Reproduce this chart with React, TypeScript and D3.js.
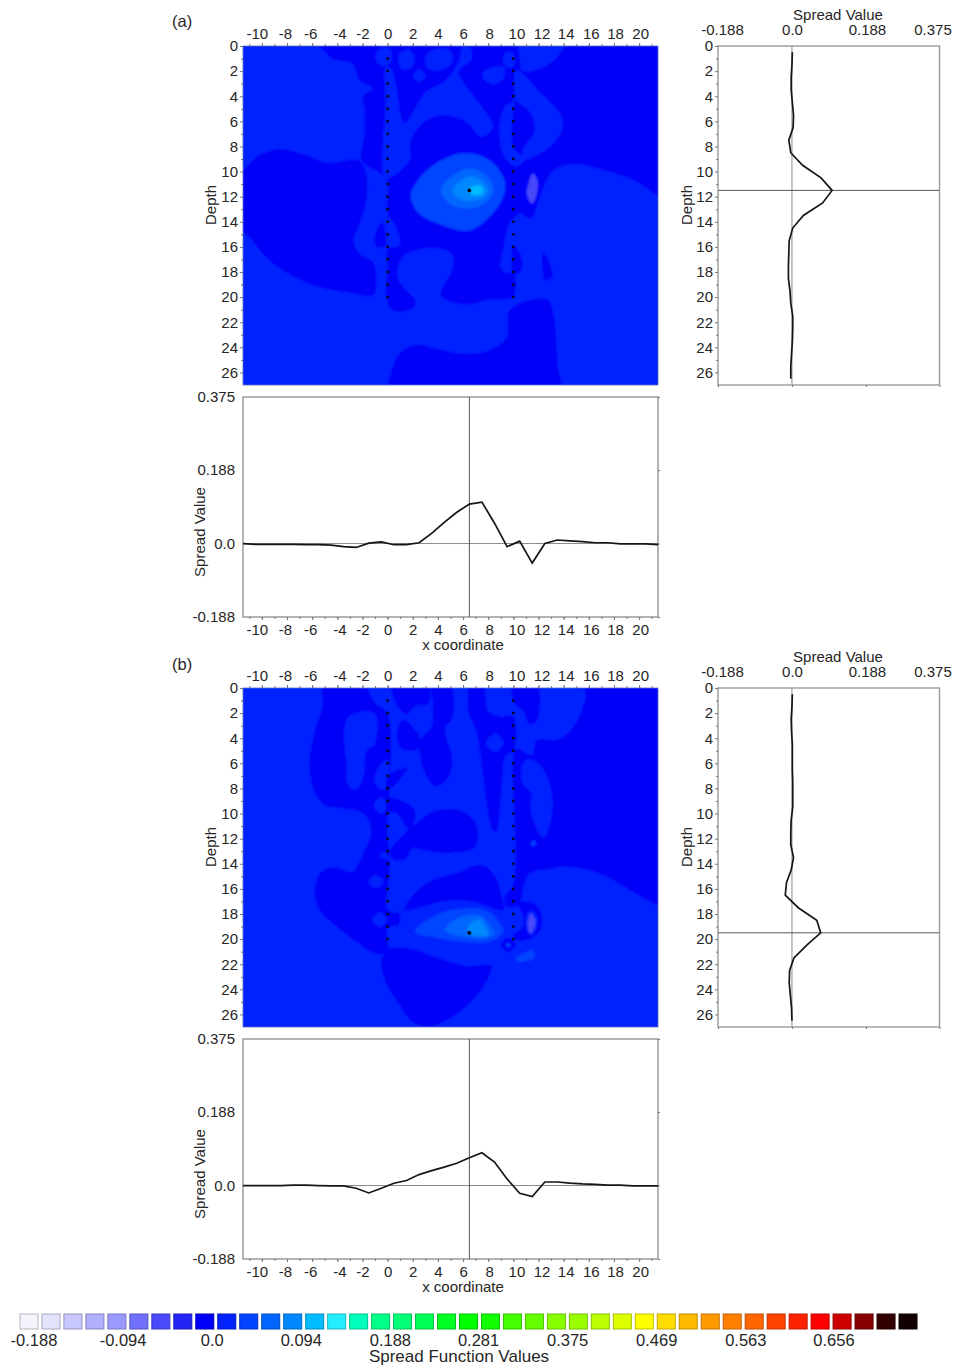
import * as d3 from "d3";
import { useEffect, useRef } from "react";

// tick values
const xMajor = [-10,-8,-6,-4,-2,0,2,4,6,8,10,12,14,16,18,20]
const depthMajor = [0,2,4,6,8,10,12,14,16,18,20,22,24,26]
const spreadTicks = [-0.188,0,0.188,0.375]
const wellX = [0,10]
const wellDepths = [1,2,3,4,5,6,7,8,9,10,11,12,13,14,15,16,17,18,19,20]

// legend
const legendColors = ["#f3f3fb","#e2e2fd","#c8c8fe","#b0b0fd","#9a9afe","#7070fb","#4a4afa","#2424f5","#0000f8","#0022ff","#0044ff","#0066ff","#0088ff","#00bbff","#22eeff","#00ffbb","#00ff88","#00ff77","#00ff55","#00ff22","#00ff00","#11ff00","#44ff00","#66ff00","#88ff00","#99ff00","#bbff00","#ddff00","#ffff00","#ffdd00","#ffbb00","#ff9900","#ff8000","#ff6600","#ff4400","#ff2200","#ff0000","#cc0000","#880000","#330000","#110000"]
const legendLabels = ["-0.188","-0.094","0.0","0.094","0.188","0.281","0.375","0.469","0.563","0.656"]
const legendValues = [-0.188,-0.094,0,0.094,0.188,0.281,0.375,0.469,0.563,0.656]

// band values used by the contour regions
const LOW = -0.035, DARK = 0.012, MID = 0.035, R1 = 0.059, R2 = 0.082, R3 = 0.106, R4 = 0.129

// profiles, x from -11.5 to 21.5 in steps of 1
const profileX = [-11.5,-10.5,-9.5,-8.5,-7.5,-6.5,-5.5,-4.5,-3.5,-2.5,-1.5,-0.5,0.5,1.5,2.5,3.5,4.5,5.5,6.5,7.5,8.5,9.5,10.5,11.5,12.5,13.5,14.5,15.5,16.5,17.5,18.5,19.5,20.5,21.5]
const spreadXA = [0,-0.002,-0.002,-0.002,-0.002,-0.003,-0.003,-0.004,-0.008,-0.01,0.001,0.004,-0.003,-0.003,0.002,0.026,0.054,0.08,0.101,0.106,0.052,-0.008,0.006,-0.05,0,0.009,0.007,0.005,0.002,0.002,-0.001,-0.001,-0.001,-0.003]
const spreadXB = [0,0,0,0,0.001,0.001,0,-0.001,-0.001,-0.007,-0.019,-0.007,0.006,0.013,0.028,0.038,0.047,0.057,0.071,0.084,0.06,0.017,-0.02,-0.028,0.009,0.009,0.006,0.004,0.003,0.001,0.001,-0.001,-0.001,-0.001]

// profiles, depth from 0.5 to 26.5 in steps of 1
const profileDepth = [0.5,1.5,2.5,3.5,4.5,5.5,6.5,7.5,8.5,9.5,10.5,11.5,12.5,13.5,14.5,15.5,16.5,17.5,18.5,19.5,20.5,21.5,22.5,23.5,24.5,25.5,26.5]
const spreadDepthA = [0.001,0,-0.002,-0.002,0.001,0.004,0.003,-0.008,-0.003,0.027,0.074,0.102,0.078,0.029,0.002,-0.007,-0.008,-0.009,-0.009,-0.005,-0.003,0.002,0.002,0.001,-0.001,-0.003,-0.003]
const spreadDepthB = [0.001,0,-0.002,-0.001,0.001,0.001,0.001,0.002,0.002,0.002,-0.002,-0.003,-0.003,0.004,-0.002,-0.014,-0.017,0.016,0.063,0.073,0.037,0.005,-0.006,-0.007,-0.004,-0.001,0]

// contours of map (a), [x, depth]
const darkMainA = [[-5.45,-0.5],[22.5,-0.5],[22.5,12],[21.5,11.9],[19.8,10.8],[17.2,9.9],[14.8,9.4],[13.2,9.9],[12.1,12],[11.4,13.75],[10.5,13.35],[9.7,14.15],[9.3,15.75],[9,17.6],[9.3,18],[10,18.1],[10,20],[8.1,20.2],[6.25,20.6],[4.25,19.9],[5.2,17.6],[5.05,16.5],[3.05,16.1],[1.2,16.8],[0.8,18.4],[1.3,19.3],[2.25,20.4],[1.7,21.05],[0.4,21.05],[-0.1,20],[0,17.6],[0,16.15],[0.95,15.9],[0.65,14.4],[0,13.35],[-0.1,10.55],[-2.05,9.15],[-1.85,7],[-1.85,5.1],[-1.95,4.05],[-1.2,3.4],[-2.25,2.7],[-2.8,1.4],[-4.4,1]]
const leftBlobA = [[-12.5,11.2],[-11.2,9.6],[-10.2,8.7],[-8.6,8.2],[-6.8,8.6],[-4.7,9.3],[-2.3,9.1],[-1.7,10.2],[-1.7,12.3],[-2.3,14.4],[-2.7,15.5],[-2.3,16.5],[-1.1,17.3],[-0.9,19.2],[-1.2,19.9],[-2.8,19.7],[-5.5,19.2],[-8.1,18],[-9.7,16.8],[-11,15.2],[-12.5,13.9]]
const bottomA = [[0.15,27.45],[0.25,26.1],[0.95,24.5],[2.25,23.8],[3.85,24.1],[6,24.5],[8.1,24.25],[9.45,23.2],[9.7,21.05],[12.65,20.15],[13.15,21.05],[13.55,25.6],[13.7,27.45]]
const armA = [[-0.15,10.55],[1.2,9.75],[1.75,9.1],[1.85,7.5],[2.8,6.15],[4.4,5.5],[6.25,6.05],[7.45,7.25],[8.4,6.45],[7.85,5.35],[6.1,3],[5.65,2.05],[6.65,1.1],[6.65,0.3],[6,-0.2],[5.7,1.1],[4.65,2.7],[3.05,3.65],[1.35,6.15],[0.95,5.1],[0.65,3],[0.25,1.8],[-0.15,1.65],[-0.15,4.3]]
const bumpA1 = [[-0.95,1],[-0.65,0.2],[0.15,0.2],[0.25,1.25],[-0.4,1.65]]
const bumpA2 = [[0.95,0.6],[1.75,0.3],[2.15,0.85],[1.85,1.8],[1.05,1.8]]
const bumpA3 = [[2.05,2.3],[2.5,1.85],[3,2.3],[2.5,2.9]]
const bumpA4 = [[3.05,0.85],[3.6,0.3],[4.9,0.3],[5.2,1.1],[4.65,1.8],[3.2,1.8]]
const bumpA5 = [[7.6,2.05],[9.2,1.65],[9.2,2.6],[8.4,3.05],[7.7,2.7]]
const bumpA6 = [[9.2,1],[9.45,0.45],[10,0.6],[10,1.65],[9.45,1.65]]
const wellStripA = [[10.1,2.05],[10,4.3],[9.3,4.85],[8.9,6.7],[9.3,8.85],[10.25,9.6],[10.9,9],[10,8.05],[10.1,4.55],[10.75,3]]
const rightArmA = [[10.25,1.9],[11.15,2.6],[11.85,3.4],[13.85,5.65],[13.85,6.7],[12.9,8.05],[10.9,9.05],[10.75,8.3],[11.7,6.7],[11.3,5.25],[10.25,4.3]]
const topRightA = [[10.5,-0.5],[14.2,-0.5],[12.9,1.4],[10.75,2],[10.5,0.85]]
const lobeA1 = [[-0.4,14],[-0.15,16],[-0.95,15.9],[-1.05,15.2]]
const lobeA2 = [[10,15.9],[10.65,16.8],[10.65,17.85],[10,18.15]]
const lobeA3 = [[12.35,16.4],[13.15,18.3],[12.5,18.7],[12.3,17.6]]
const ringA1 = [[1.85,12],[2.4,10.7],[3.85,9.35],[6,8.55],[8.1,9.1],[9.3,10.7],[9.2,12],[8.1,13.6],[6.5,14.7],[4.4,14.3],[2.5,13.35]]
const ringA2 = [[3.3,11.5],[4.4,9.9],[6.25,9.35],[8.1,9.9],[8.8,11.35],[8.1,12.8],[6.5,13.6],[4.65,13.35],[3.6,12.55]]
const ringA3 = [[4.25,11.5],[5.2,10.3],[6.5,9.75],[7.85,10.3],[8.4,11.5],[7.7,12.55],[6.4,12.95],[4.9,12.55]]
const ringA4 = [[5.2,11.5],[5.85,10.7],[6.8,10.4],[7.7,10.95],[8,11.6],[7.45,12.15],[6.25,12.3],[5.45,12]]
const ringA6 = [[6.5,11.4],[7.2,11.1],[7.6,11.35],[7.45,11.8],[6.65,11.8]]
const lowLobeA = [[11.15,11.2],[11.55,10.15],[11.9,10.7],[11.85,11.75],[11.5,12.55],[11.1,11.9]]

// contours of map (b), [x, depth]
const leftShellB = [[-5.15,-0.3],[-5.15,1.3],[-5.8,3.45],[-6.2,5.6],[-5.95,7.95],[-5.05,9.3],[-3.55,9.6],[-1.95,9.95],[-1.3,11.4],[-2.25,14.5],[0,14.5],[0.15,13],[0,11.7],[0,2],[-0.95,1.3],[-1.95,-0.3]]
const islandB = [[-3.45,3.45],[-3.05,2.25],[-1.05,2],[-1.05,4.5],[-1.7,5.05],[-1.95,7.15],[-2.5,8.1],[-3.15,7.7],[-3.3,5.6]]
const bumpB1 = [[-1.05,7.45],[-0.5,6],[0,5.7],[0,8],[-0.5,8.1]]
const bumpB2 = [[-1.1,9.35],[-0.5,8.7],[0,9.3],[-0.5,10.05]]
const bumpB3 = [[-0.65,13.4],[-0.25,13.05],[0.1,13.55],[0,13.95]]
const blobB = [[0.2,13],[1.2,11.7],[2.55,10.6],[3.6,9.85],[5.5,9.7],[6.85,10.5],[7.2,11.7],[6.85,12.75],[4.7,13.15],[2.8,12.9],[2,12.75],[1.5,13.55],[0.55,13.7]]
const wedgeB1 = [[0,7.05],[1.6,6.35],[0.95,7.3],[0,8.1]]
const wedgeB2 = [[0,8.75],[2.15,9.7],[1.75,11.3],[0.7,9.95],[0,9.85]]
const topDarkB = [[0.4,-0.3],[3.2,-0.3],[3.2,1.3],[2.15,1.45],[1.5,2.1],[0.7,1.3]]
const lobeB2 = [[0.75,3.45],[1.2,2.5],[2.15,3.3],[2.55,4],[2.3,4.9],[1.2,4.9],[0.8,4.4]]
const lobeB3 = [[3.6,-0.3],[4.95,-0.3],[5.2,2.25],[4.55,3.3],[5.1,5.3],[4.95,6.9],[3.9,7.85],[3.1,7.05],[2.55,5.3],[2.55,4.25],[3.5,3.05],[3.6,1.6]]
const spikeB = [[6.4,1.05],[6.55,-0.3],[7.6,-0.3],[8,1.85],[8.95,2.25],[10,2.25],[10,5.05],[9.45,5.3],[9.05,8.25],[8.65,11.4],[8.4,11.4],[7.35,5.3],[7.05,3.45],[6.4,1.85]]
const circleB = [[7.8,4.4],[8.55,3.6],[9.2,4.4],[8.55,5.1]]
const topRightB = [[10,-0.3],[11.85,-0.3],[11.85,2.65],[11.3,2.9],[10.8,1.85],[10,1.05]]
const rightDarkB = [[15.8,-0.4],[22.5,-0.4],[22.5,17.45],[21.5,17.3],[19.8,16.4],[17.15,14.9],[14.5,14.25],[12.65,14.45],[11.3,14.75],[10.75,16.1],[10.5,17.2],[9.45,17.45],[9.3,16.65],[10,15.6],[10,5.5],[10.25,4.8],[11.45,5.35],[11.85,4.15],[13.55,4.1],[14.75,3.1],[15.7,0.95]]
const armB = [[10.65,6.35],[11.05,5.7],[12,6],[12.9,7.7],[13.05,10.1],[12.4,11.95],[11.6,10.6],[11.35,9.3],[11.45,8.35],[10.8,7.7]]
const spotB = [[11.4,12.35],[11.65,12.15],[11.8,12.45],[11.5,12.6]]
const lowerLeftB = [[-5.8,16.35],[-5.4,14.75],[-4.35,14.25],[-2.75,14.65],[-2.1,13.7],[0,13.7],[0,17.7],[0.95,17.95],[0.95,18.75],[0,19.15],[0,20.85],[-0.65,21.25],[-2.5,20.2],[-4.35,18.75],[-5.4,17.7]]
const discB1 = [[-1.5,15.4],[-0.95,14.9],[-0.35,15.4],[-0.9,15.95]]
const discB2 = [[-1.2,18.45],[-0.65,17.85],[-0.05,18.45],[-0.65,19]]
const darkBandB = [[1.35,17.7],[2,16.5],[3.6,15.3],[5.75,14.65],[7.35,14.1],[8.4,14.75],[9.2,17.15],[9.2,17.7],[6.8,17],[4.4,17],[2.8,17.4]]
const darkRingB = [[10.4,17.3],[11.35,17],[12.15,17.8],[12.2,19.15],[11.45,19.95],[10.25,20.1],[10,19.7],[10.65,19.15],[10.8,18.2]]
const innerB = [[10.95,18.6],[11.35,17.7],[11.9,18.2],[11.85,19.15],[11.35,19.7]]
const lowLobeB = [[11.15,18.75],[11.4,17.95],[11.75,18.5],[11.65,19.15],[11.35,19.55]]
const darkDotB = [[9,20.45],[9.6,19.9],[10.2,20.4],[9.6,21.05]]
const dotCentreB = [[9.4,20.45],[9.6,20.3],[9.8,20.5],[9.6,20.65]]
const bottomB = [[-0.5,21.65],[0,20.8],[1.75,20.75],[4.15,21.55],[6.3,22.15],[8.25,22.15],[7.6,23.8],[6.55,25.1],[4.95,26.3],[3.35,27],[2,26.6],[0.7,24.85],[-0.25,23.25]]
const ringB1 = [[2.15,19.4],[3.35,18.35],[4.95,17.7],[7.85,17.7],[8.95,18.75],[9.2,19.4],[8.15,20.2],[6.3,20.25],[4.15,19.95]]
const ringB2 = [[4.55,19.3],[5.5,18.35],[7.35,18.1],[8.15,19],[8.55,19.55],[7.6,19.95],[6,19.8]]
const ringB3 = [[6.55,18.75],[7.35,18.45],[7.85,19.15],[8,19.7],[6.8,19.7],[6.4,19.4]]
const spotB2 = [[10.15,21.55],[10.8,21.15],[11.45,20.85],[11.7,21.4],[11.05,21.75],[10.4,21.8]]

// paint order, back to front
const regionsA = [[DARK,darkMainA],[DARK,leftBlobA],[DARK,bottomA],[MID,armA],[MID,bumpA1],[MID,bumpA2],[MID,bumpA3],[MID,bumpA4],[MID,bumpA5],[MID,bumpA6],[MID,wellStripA],[MID,rightArmA],[MID,topRightA],[DARK,lobeA1],[DARK,lobeA2],[DARK,lobeA3],[R1,ringA1],[R1,ringA2],[R2,ringA3],[R3,ringA4],[R4,ringA6],[LOW,lowLobeA]]
const regionsB = [[DARK,leftShellB],[MID,islandB],[MID,bumpB1],[MID,bumpB2],[MID,bumpB3],[DARK,blobB],[DARK,wedgeB1],[DARK,wedgeB2],[DARK,topDarkB],[DARK,lobeB2],[DARK,lobeB3],[DARK,spikeB],[MID,circleB],[DARK,topRightB],[DARK,rightDarkB],[MID,armB],[R1,spotB],[DARK,lowerLeftB],[MID,discB1],[MID,discB2],[DARK,darkBandB],[DARK,darkRingB],[MID,innerB],[LOW,lowLobeB],[DARK,darkDotB],[R1,dotCentreB],[DARK,bottomB],[R1,ringB1],[R2,ringB2],[R3,ringB3],[R1,spotB2]]

const FONT = "'Liberation Sans', Arial, sans-serif"
const INK = "#262626"
const FRAME = "#9a9a9a"

// the source images jitter a few x labels sideways
const labelNudge = {"-10":-5,"-8":-2,"-6":-2,"-4":2,"8":1,"10":3,"12":3,"14":2,"16":2,"18":1,"20":1}

const styleAxis=(g,size=15)=>{
    g.selectAll("text").attr("font-family",FONT).attr("font-size",size).attr("fill",INK)
    g.selectAll("line").attr("stroke","#777")
    g.select(".domain").remove()
}

const fmtSpread=(d)=>d===0?"0.0":String(d)

const drawPanel=(root,id,regions,spreadX,spreadDepth,srcX,srcDepth,label,labelY,top)=>{
    const g=root.append("g").attr("transform",`translate(0,${top})`)
    const colorScale=d3.scaleQuantize().domain([-0.188,-0.188+41*0.0235]).range(legendColors)

    //map scales
    const x=d3.scaleLinear().domain([-11.5,21.5]).range([243,658])
    const depth=d3.scaleLinear().domain([0,27]).range([0,339])

    g.append("text").text(label).attr("x",172).attr("y",labelY).attr("font-family",FONT).attr("font-size",16.5).attr("fill",INK)

    //contour map
    g.append("clipPath").attr("id",`clip-${id}`).append("rect")
        .attr("x",x(-11.5)).attr("y",depth(0)).attr("width",x(21.5)-x(-11.5)).attr("height",depth(27))
    const outline=d3.line().x(p=>x(p[0])).y(p=>depth(p[1])).curve(d3.curveCatmullRomClosed.alpha(0.5))
    const clipped=g.append("g").attr("clip-path",`url(#clip-${id})`)
    const map=clipped.append("g").attr("filter","url(#soft)")
    map.append("rect").attr("x",230).attr("y",-15).attr("width",440).attr("height",370).attr("fill",colorScale(MID))
    map.selectAll("path").data(regions).join("path")
        .attr("d",r=>outline(r[1]))
        .attr("fill",r=>colorScale(r[0]))
    wellX.forEach(w=>{
        clipped.append("g").selectAll("circle").data(wellDepths).join("circle")
            .attr("cx",x(w)).attr("cy",d=>depth(d)).attr("r",1.4).attr("fill","#06061c")
    })
    clipped.append("circle").attr("cx",x(srcX)).attr("cy",depth(srcDepth)).attr("r",1.9).attr("fill","#040410")
    g.append("rect").attr("x",x(-11.5)).attr("y",depth(0)).attr("width",x(21.5)-x(-11.5)).attr("height",depth(27))
        .attr("fill","none").attr("stroke","#5a70c8").attr("stroke-width",0.8)

    //map axes
    const xTop=g.append("g").attr("transform",`translate(0,${depth(0)})`)
        .call(d3.axisTop(x).tickValues(xMajor).tickSize(3).tickPadding(4).tickFormat(String))
    styleAxis(xTop)
    xTop.selectAll("text").attr("dx",d=>labelNudge[d]||0)
    const xTopMinor=g.append("g").attr("transform",`translate(0,${depth(0)})`)
        .call(d3.axisTop(x).tickValues(d3.range(-11,22)).tickSize(2).tickFormat(""))
    styleAxis(xTopMinor)
    const yLeft=g.append("g").attr("transform",`translate(${x(-11.5)},0)`)
        .call(d3.axisLeft(depth).tickValues(depthMajor).tickSize(3).tickPadding(2))
    styleAxis(yLeft)
    const yLeftMinor=g.append("g").attr("transform",`translate(${x(-11.5)},0)`)
        .call(d3.axisLeft(depth).tickValues(d3.range(1,27,2)).tickSize(2).tickFormat(""))
    styleAxis(yLeftMinor)
    g.append("text").text("Depth").attr("transform",`translate(216,${depth(0)+159}) rotate(-90)`)
        .attr("text-anchor","middle").attr("font-family",FONT).attr("font-size",15).attr("fill",INK)

    //depth profile on the right
    const v=d3.scaleLinear().domain([-0.188,0.375]).range([718,939.5])
    g.append("rect").attr("x",v(-0.188)).attr("y",depth(0)).attr("width",v(0.375)-v(-0.188)).attr("height",depth(27))
        .attr("fill","none").attr("stroke",FRAME).attr("stroke-width",1.4)
    const vTop=g.append("g").attr("transform",`translate(0,${depth(0)})`)
        .call(d3.axisTop(v).tickValues(spreadTicks).tickSize(0).tickPadding(11).tickFormat(fmtSpread))
    styleAxis(vTop)
    vTop.selectAll("text").attr("dx",d=>d===0.375?-7:d===0.188?1:d===-0.188?4:0)
    const vBottom=g.append("g").attr("transform",`translate(0,${depth(27)})`)
        .call(d3.axisBottom(v).tickValues(spreadTicks).tickSize(2).tickFormat(""))
    styleAxis(vBottom)
    g.append("text").text("Spread Value").attr("x",838).attr("y",depth(0)-26)
        .attr("text-anchor","middle").attr("font-family",FONT).attr("font-size",15).attr("fill",INK)
    const yRight=g.append("g").attr("transform",`translate(${v(-0.188)},0)`)
        .call(d3.axisLeft(depth).tickValues(depthMajor).tickSize(3).tickPadding(2))
    styleAxis(yRight)
    const yRightMinor=g.append("g").attr("transform",`translate(${v(-0.188)},0)`)
        .call(d3.axisLeft(depth).tickValues(d3.range(1,27,2)).tickSize(2).tickFormat(""))
    styleAxis(yRightMinor)
    g.append("text").text("Depth").attr("transform",`translate(692,${depth(0)+159}) rotate(-90)`)
        .attr("text-anchor","middle").attr("font-family",FONT).attr("font-size",15).attr("fill",INK)
    g.append("line").attr("x1",v(0)).attr("x2",v(0)).attr("y1",depth(0)).attr("y2",depth(27)).attr("stroke","#8a8a8a").attr("stroke-width",1)
    g.append("line").attr("x1",v(-0.188)).attr("x2",v(0.375)).attr("y1",depth(srcDepth)).attr("y2",depth(srcDepth)).attr("stroke","#555").attr("stroke-width",1)
    const depthLine=d3.line().x(s=>v(s)).y((s,i)=>depth(profileDepth[i]))
    g.append("path").attr("d",depthLine(spreadDepth)).attr("fill","none").attr("stroke","#151515").attr("stroke-width",1.7)

    //x profile below
    const s=d3.scaleLinear().domain([-0.188,0.375]).range([571,351])
    g.append("rect").attr("x",x(-11.5)).attr("y",s(0.375)).attr("width",x(21.5)-x(-11.5)).attr("height",s(-0.188)-s(0.375))
        .attr("fill","none").attr("stroke",FRAME).attr("stroke-width",1.5)
    const sLeft=g.append("g").attr("transform",`translate(${x(-11.5)},0)`)
        .call(d3.axisLeft(s).tickValues(spreadTicks).tickSize(0).tickPadding(8).tickFormat(fmtSpread))
    styleAxis(sLeft)
    const sRight=g.append("g").attr("transform",`translate(${x(21.5)},0)`)
        .call(d3.axisRight(s).tickValues(spreadTicks).tickSize(2).tickFormat(""))
    styleAxis(sRight)
    const xBottom=g.append("g").attr("transform",`translate(0,${s(-0.188)})`)
        .call(d3.axisBottom(x).tickValues(xMajor).tickSize(3).tickPadding(4).tickFormat(String))
    styleAxis(xBottom)
    xBottom.selectAll("text").attr("dx",d=>labelNudge[d]||0)
    const xBottomMinor=g.append("g").attr("transform",`translate(0,${s(-0.188)})`)
        .call(d3.axisBottom(x).tickValues(d3.range(-11,22)).tickSize(2).tickFormat(""))
    styleAxis(xBottomMinor)
    g.append("line").attr("x1",x(-11.5)).attr("x2",x(21.5)).attr("y1",s(0)).attr("y2",s(0)).attr("stroke","#8a8a8a").attr("stroke-width",1)
    g.append("line").attr("x1",x(srcX)).attr("x2",x(srcX)).attr("y1",s(0.375)).attr("y2",s(-0.188)).attr("stroke","#555").attr("stroke-width",1)
    const xLine=d3.line().x((d,i)=>x(profileX[i])).y(d=>s(d))
    g.append("path").attr("d",xLine(spreadX)).attr("fill","none").attr("stroke","#151515").attr("stroke-width",1.7)
    g.append("text").text("Spread Value").attr("transform",`translate(205,${486}) rotate(-90)`)
        .attr("text-anchor","middle").attr("font-family",FONT).attr("font-size",15).attr("fill",INK)
    g.append("text").text("x coordinate").attr("x",463).attr("y",604)
        .attr("text-anchor","middle").attr("font-family",FONT).attr("font-size",15).attr("fill",INK)
}

const App=()=>{
    const svgRef=useRef()

    useEffect(()=>{
        const svg=d3.select(svgRef.current)
        svg.selectAll("*").remove()

        const filter=svg.append("defs").append("filter").attr("id","soft")
            .attr("x","-5%").attr("y","-5%").attr("width","110%").attr("height","110%")
        filter.append("feGaussianBlur").attr("stdDeviation",0.8)

        drawPanel(svg,"a",regionsA,spreadXA,spreadDepthA,6.5,11.5,"(a)",-19,46)
        drawPanel(svg,"b",regionsB,spreadXB,spreadDepthB,6.5,19.5,"(b)",-18,688)

        //legend
        const swatch=d3.scaleBand().domain(d3.range(legendColors.length)).range([18,919]).paddingInner(0.18).paddingOuter(0.09)
        const legend=svg.append("g")
        legend.selectAll("rect").data(legendColors).join("rect")
            .attr("x",(c,i)=>swatch(i)).attr("y",1314).attr("width",swatch.bandwidth()).attr("height",15)
            .attr("fill",c=>c)
            .attr("stroke",c=>d3.color(c).darker(0.8))
            .attr("stroke-width",1)
        const labelX=d3.scaleLinear().domain([-0.188,0.656]).range([34,834])
        legend.selectAll("text").data(legendLabels).join("text")
            .text(d=>d)
            .attr("x",(d,i)=>labelX(legendValues[i]))
            .attr("y",1346)
            .attr("text-anchor","middle").attr("font-family",FONT).attr("font-size",16.5).attr("fill",INK)
        svg.append("text").text("Spread Function Values").attr("x",459).attr("y",1362)
            .attr("text-anchor","middle").attr("font-family",FONT).attr("font-size",17).attr("fill",INK)
    },[])

    return(
        <svg ref={svgRef} width={955} height={1369} style={{position:"absolute",left:0,top:0,display:"block",background:"#fff"}}></svg>
    )
}

export default App;
